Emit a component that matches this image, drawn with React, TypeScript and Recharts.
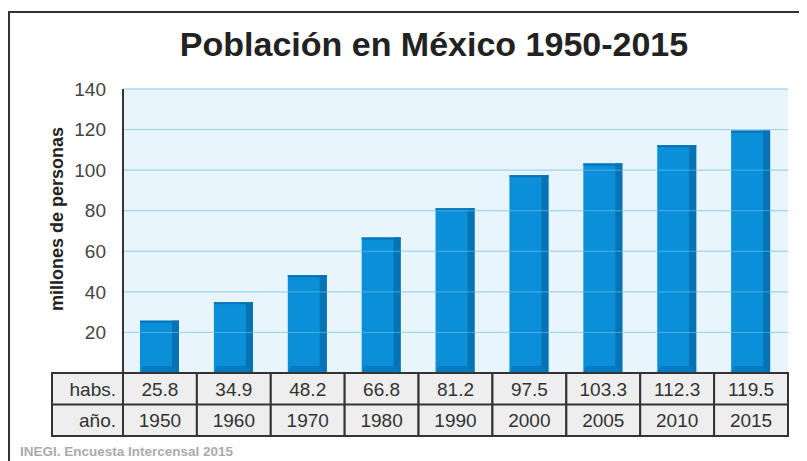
import React from 'react';
import { BarChart, Bar, XAxis, YAxis, CartesianGrid, ReferenceLine } from 'recharts';

const years = ['1950', '1960', '1970', '1980', '1990', '2000', '2005', '2010', '2015'];
const population = [25.8, 34.9, 48.2, 66.8, 81.2, 97.5, 103.3, 112.3, 119.5];
const yTicks = [20, 40, 60, 80, 100, 120, 140];

const data = years.map((year, i) => ({ year, value: population[i] }));

const W = 807;
const H = 461;
const PLOT_LEFT = 123;
const PLOT_RIGHT = 788;
const PLOT_BOTTOM = 373;
const ROW_H = 31.5;
const BAND = (PLOT_RIGHT - PLOT_LEFT) / years.length;
const LABEL_W = 71;
const FONT = 'Liberation Sans, Arial, sans-serif';

// 3D-ish bar: lighter face, darker right side and base
const Bar3D = (props: any) => {
  const { x, y, width, height } = props;
  if (!height || height <= 0) return null;
  const side = 7;
  const base = 7;
  return (
    <g>
      <rect x={x} y={y} width={width} height={height} fill="#0a8fd8" />
      <rect x={x + width - side} y={y} width={side} height={height} fill="#0674b4" />
      <rect x={x} y={y} width={width} height={2} fill="#0674b4" />
      <polygon
        points={`${x + 3},${y + height - base} ${x + width - side},${y + height - base} ${x + width},${y + height} ${x},${y + height}`}
        fill="#067abf"
      />
    </g>
  );
};

// table cells drawn under each category through the x axis ticks
const TableTick = (props: any) => {
  const { x, payload, index } = props;
  const left = x - BAND / 2;
  const top = PLOT_BOTTOM;
  const cellText = { fontFamily: FONT, fontSize: 19, fill: '#333' };
  return (
    <g>
      {index === 0 && (
        <g>
          <rect x={left - LABEL_W} y={top} width={LABEL_W} height={ROW_H * 2} fill="#eeeeee" stroke="#333" strokeWidth={2} />
          <line x1={left - LABEL_W} x2={left} y1={top + ROW_H} y2={top + ROW_H} stroke="#333" strokeWidth={2} />
          <text x={left - 7} y={top + ROW_H / 2 + 7} textAnchor="end" {...cellText}>habs.</text>
          <text x={left - 7} y={top + ROW_H * 1.5 + 7} textAnchor="end" {...cellText}>año.</text>
        </g>
      )}
      <rect x={left} y={top} width={BAND} height={ROW_H * 2} fill="#eeeeee" stroke="#333" strokeWidth={2} />
      <line x1={left} x2={left + BAND} y1={top + ROW_H} y2={top + ROW_H} stroke="#333" strokeWidth={2} />
      <text x={x} y={top + ROW_H / 2 + 7} textAnchor="middle" {...cellText}>
        {population[index].toFixed(1)}
      </text>
      <text x={x} y={top + ROW_H * 1.5 + 7} textAnchor="middle" {...cellText}>
        {payload.value}
      </text>
    </g>
  );
};

const YLabel = () => (
  <text
    x={57}
    y={219}
    transform="rotate(-90 57 219)"
    textAnchor="middle"
    dominantBaseline="central"
    style={{ fontFamily: FONT, fontWeight: 'bold', fontSize: 18, fill: '#222' }}
  >
    millones de personas
  </text>
);

export default function App() {
  return (
    <div
      style={{
        position: 'relative',
        width: W,
        height: H,
        margin: '-8px -8px 0 -8px',
        background: '#fff',
        overflow: 'hidden',
      }}
    >
      <div
        style={{
          position: 'absolute',
          left: 8,
          top: 11,
          width: W,
          height: H,
          borderLeft: '2px solid #333',
          borderTop: '2px solid #333',
        }}
      />
      <div
        style={{
          position: 'absolute',
          left: 0,
          width: 868,
          top: 25,
          lineHeight: '38px',
          textAlign: 'center',
          fontFamily: FONT,
          fontWeight: 'bold',
          fontSize: 34,
          color: '#222',
        }}
      >
        Población en México 1950-2015
      </div>
      <div
        style={{
          position: 'absolute',
          left: 20,
          top: 445,
          lineHeight: '14px',
          fontFamily: FONT,
          fontWeight: 'bold',
          fontSize: 13.5,
          color: '#aaa',
        }}
      >
        INEGI. Encuesta Intercensal 2015
      </div>
      <div style={{ position: 'absolute', left: 0, top: 0 }}>
        <BarChart width={W} height={H} data={data} margin={{ top: 89, right: W - PLOT_RIGHT, left: 0, bottom: 25 }}>
          <CartesianGrid vertical={false} stroke="#abd9ef" fill="#e9f5fc" horizontalValues={yTicks} />
          <XAxis
            dataKey="year"
            height={H - 25 - PLOT_BOTTOM}
            axisLine={false}
            tickLine={false}
            interval={0}
            tick={<TableTick />}
          />
          <YAxis
            width={PLOT_LEFT}
            domain={[0, 140]}
            ticks={yTicks}
            tickLine={false}
            axisLine={{ stroke: '#333', strokeWidth: 2 }}
            tickMargin={11}
            tick={{ fontFamily: FONT, fontSize: 19, fill: '#444' }}
            label={<YLabel />}
          />
          <Bar dataKey="value" barSize={39} shape={<Bar3D />} isAnimationActive={false} />
          {yTicks.map((t) => (
            <ReferenceLine key={t} y={t} stroke="#8fcdf0" strokeOpacity={0.5} />
          ))}
        </BarChart>
      </div>
    </div>
  );
}
